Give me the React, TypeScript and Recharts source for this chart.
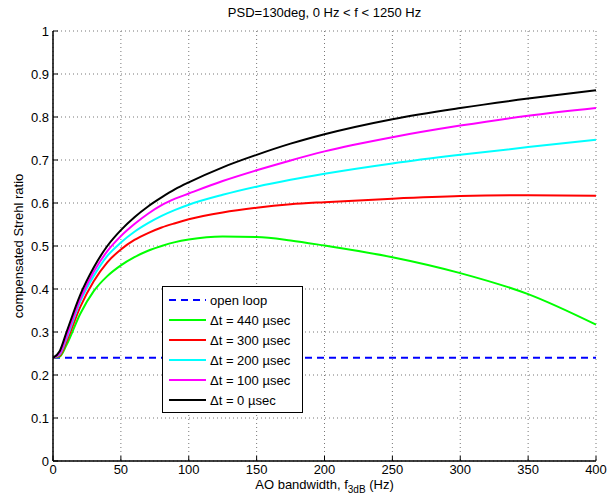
import React from "react"
import {
  LineChart,
  Line,
  XAxis,
  YAxis,
  CartesianGrid
} from "recharts"

const bandwidth = [0, 5, 10, 20, 30, 40, 50, 60, 70, 80, 90, 100, 125, 150, 175, 200, 250, 300, 350, 400]

const openLoop = bandwidth.map(() => 0.24)
const dt440 = [0.24, 0.243, 0.27, 0.342, 0.395, 0.43, 0.455, 0.474, 0.489, 0.5, 0.509, 0.515, 0.522, 0.521, 0.513, 0.501, 0.474, 0.437, 0.388, 0.317]
const dt300 = [0.24, 0.245, 0.278, 0.358, 0.418, 0.462, 0.492, 0.514, 0.53, 0.543, 0.553, 0.562, 0.578, 0.589, 0.597, 0.602, 0.61, 0.616, 0.618, 0.617]
const dt200 = [0.24, 0.248, 0.285, 0.37, 0.43, 0.477, 0.508, 0.533, 0.553, 0.57, 0.584, 0.596, 0.619, 0.638, 0.654, 0.668, 0.692, 0.712, 0.73, 0.747]
const dt100 = [0.24, 0.25, 0.29, 0.376, 0.44, 0.488, 0.523, 0.551, 0.575, 0.595, 0.61, 0.622, 0.651, 0.676, 0.699, 0.72, 0.753, 0.78, 0.803, 0.821]
const dt0 = [0.24, 0.256, 0.3, 0.386, 0.45, 0.5, 0.537, 0.567, 0.592, 0.613, 0.632, 0.648, 0.683, 0.712, 0.738, 0.76, 0.795, 0.821, 0.843, 0.862]

const xTicks = [0, 50, 100, 150, 200, 250, 300, 350, 400]
const yTicks = [0, 0.1, 0.2, 0.3, 0.4, 0.5, 0.6, 0.7, 0.8, 0.9, 1]

const series = [
  { key: "open", name: "open loop", color: "#0000ff", dash: "7 5", values: openLoop },
  { key: "d440", name: "\u0394t = 440 \u00b5sec", color: "#00ff00", dash: undefined, values: dt440 },
  { key: "d300", name: "\u0394t = 300 \u00b5sec", color: "#ff0000", dash: undefined, values: dt300 },
  { key: "d200", name: "\u0394t = 200 \u00b5sec", color: "#00ffff", dash: undefined, values: dt200 },
  { key: "d100", name: "\u0394t = 100 \u00b5sec", color: "#ff00ff", dash: undefined, values: dt100 },
  { key: "d0", name: "\u0394t = 0 \u00b5sec", color: "#000000", dash: undefined, values: dt0 }
]

const data = bandwidth.map((f, i) => {
  const row: Record<string, number> = { f }
  series.forEach(s => { row[s.key] = s.values[i] })
  return row
})

const font = "'Liberation Sans', Arial, Helvetica, sans-serif"
const tickStyle = { fontSize: 13, fill: "#000", fontFamily: font }

function LegendBox() {
  return (
    <div style={{
      position: "absolute",
      left: 162,
      top: 286,
      boxSizing: "border-box",
      border: "1.5px solid #000",
      background: "#fff",
      width: 141,
      height: 127,
      padding: "3px 0 0 0",
      fontFamily: font,
      fontSize: 13,
      color: "#000"
    }}>
      {series.map(s => (
        <div key={s.key} style={{ display: "flex", alignItems: "center", height: 20 }}>
          <svg width={42} height={10} style={{ marginLeft: 5 }}>
            <line x1={1} y1={5} x2={38} y2={5} stroke={s.color} strokeWidth={2}
              strokeDasharray={s.dash} />
          </svg>
          <span>{s.name}</span>
        </div>
      ))}
    </div>
  )
}

export default function App() {
  return (
    <div style={{ position: "absolute", left: 0, top: 0, width: 608, height: 500, background: "#fff" }}>
      <div style={{
        position: "absolute", left: 53, width: 543, top: 5, textAlign: "center",
        fontFamily: font, fontSize: 13
      }}>
        PSD=130deg, 0 Hz &lt; f &lt; 1250 Hz
      </div>
      <div style={{
        position: "absolute", left: 53, width: 543, top: 477, textAlign: "center",
        fontFamily: font, fontSize: 13
      }}>
        AO bandwidth, f<sub style={{ fontSize: 10 }}>3dB</sub> (Hz)
      </div>
      <div style={{
        position: "absolute", left: 18, top: 246, width: 0, height: 0
      }}>
        <div style={{
          position: "absolute", transform: "translate(-50%, -50%) rotate(-90deg)",
          whiteSpace: "nowrap", fontFamily: font, fontSize: 13
        }}>
          compensated Strehl ratio
        </div>
      </div>
      <LineChart
        width={608}
        height={500}
        data={data}
        margin={{ top: 31, right: 12, bottom: 0, left: 0 }}
        style={{ position: "absolute", left: 0, top: 0 }}
      >
        <CartesianGrid
          xAxisId="bottom"
          yAxisId="left"
          stroke="#777"
          strokeDasharray="1 3"
        />
        <XAxis
          xAxisId="bottom"
          dataKey="f"
          type="number"
          domain={[0, 400]}
          ticks={xTicks}
          height={39}
          tickSize={-5}
          tickMargin={9}
          tick={tickStyle}
          axisLine={{ stroke: "#000", strokeWidth: 1.5 }}
          tickLine={{ stroke: "#000" }}
        />
        <XAxis
          xAxisId="top"
          orientation="top"
          dataKey="f"
          type="number"
          domain={[0, 400]}
          ticks={xTicks}
          height={0}
          tickSize={-5}
          tickFormatter={() => ""}
          axisLine={{ stroke: "#000", strokeWidth: 1.5 }}
          tickLine={{ stroke: "#000" }}
        />
        <YAxis
          yAxisId="left"
          type="number"
          domain={[0, 1]}
          ticks={yTicks}
          width={53}
          tickSize={-5}
          tickMargin={9}
          tick={tickStyle}
          tickFormatter={(v: number) => String(Math.round(v * 10) / 10)}
          axisLine={{ stroke: "#000", strokeWidth: 1.5 }}
          tickLine={{ stroke: "#000" }}
        />
        <YAxis
          yAxisId="right"
          orientation="right"
          type="number"
          domain={[0, 1]}
          ticks={yTicks}
          width={0}
          tickSize={-5}
          tickFormatter={() => ""}
          axisLine={{ stroke: "#000", strokeWidth: 1.5 }}
          tickLine={{ stroke: "#000" }}
        />
        {series.map(s => (
          <Line
            key={s.key}
            xAxisId="bottom"
            yAxisId="left"
            type="monotone"
            dataKey={s.key}
            name={s.name}
            stroke={s.color}
            strokeWidth={2}
            strokeDasharray={s.dash}
            dot={false}
            activeDot={false}
            isAnimationActive={false}
          />
        ))}
      </LineChart>
      <LegendBox />
    </div>
  )
}
